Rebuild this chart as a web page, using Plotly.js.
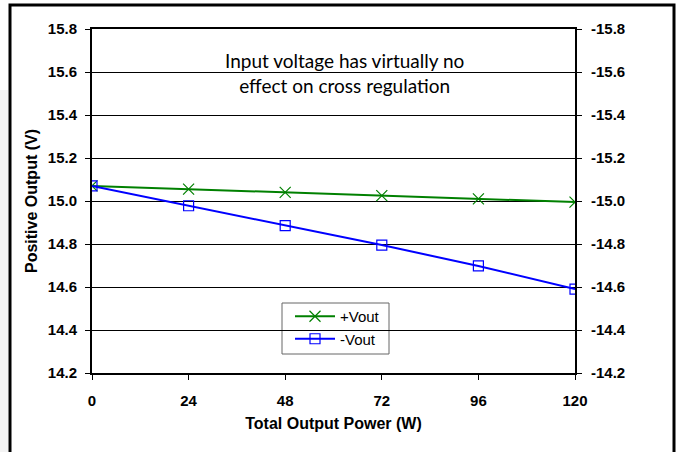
<!DOCTYPE html>
<html>
<head>
<meta charset="utf-8">
<script src="https://cdn.plot.ly/plotly-3.0.1.min.js"></script>
<style>html,body{margin:0;padding:0;background:#fff;}#chart{width:681px;height:452px;}</style>
</head>
<body>
<div id="chart"></div>
<script>
// Data
const power = [0, 24, 48, 72, 96, 120];               // Total Output Power (W)
const posVout = [15.07, 15.055, 15.04, 15.025, 15.01, 14.995];   // +Vout (V)
const negVout = [-15.07, -14.978, -14.885, -14.795, -14.698, -14.59]; // -Vout (V)
const xTicks = [0, 24, 48, 72, 96, 120];
const yTicks = [14.2, 14.4, 14.6, 14.8, 15.0, 15.2, 15.4, 15.6, 15.8];
const y2Ticks = [-15.8, -15.6, -15.4, -15.2, -15.0, -14.8, -14.6, -14.4, -14.2];
const noteText = 'Input voltage has virtually no<br>effect on cross regulation';

const tickFont = {family: 'Liberation Sans, Arial, sans-serif', size: 15, color: '#000', weight: 'bold'};
const titleFont = {family: 'Liberation Sans, Arial, sans-serif', size: 16, color: '#000', weight: 'bold'};

const traces = [
  {
    x: power, y: posVout, name: '+Vout', type: 'scatter', mode: 'lines+markers',
    line: {color: '#008000', width: 2},
    marker: {symbol: 'x-thin', size: 11, line: {color: '#008000', width: 1.2}, color: '#008000'},
    xaxis: 'x', yaxis: 'y'
  },
  {
    x: power, y: negVout, name: '-Vout', type: 'scatter', mode: 'lines+markers',
    line: {color: '#0000ff', width: 2},
    marker: {symbol: 'square-open', size: 10, color: '#0000ff', line: {color: '#0000ff', width: 1.2}},
    xaxis: 'x', yaxis: 'y2'
  }
];

const L = 92, R = 575, T = 29, B = 373, W = 681, H = 452;
const px = v => (v - L) / (R - L);
const py = v => (B - v) / (B - T);

const layout = {
  width: W, height: H,
  margin: {l: L, r: W - R, t: T, b: H - B, pad: 0},
  paper_bgcolor: '#fff', plot_bgcolor: '#fff',
  showlegend: true,
  legend: {
    x: px(290), y: py(300), xanchor: 'left', yanchor: 'top',
    bgcolor: 'rgba(0,0,0,0)', borderwidth: 0,
    font: {family: 'Liberation Sans, Arial, sans-serif', size: 15, color: '#000'},
    itemwidth: 40, tracegroupgap: 0
  },
  xaxis: {
    range: [0, 120], tickvals: xTicks, ticktext: xTicks.map(String),
    showgrid: false, zeroline: false,
    showline: true, linecolor: '#000', linewidth: 2, mirror: true,
    ticks: 'outside', ticklen: 5, tickcolor: '#000', tickwidth: 1,
    tickfont: tickFont, ticklabelstandoff: 8,
    title: {text: 'Total Output Power (W)', font: titleFont, standoff: 10}
  },
  yaxis: {
    range: [14.2, 15.8], tickvals: yTicks, ticktext: yTicks.map(v => v.toFixed(1)),
    showgrid: true, gridcolor: '#000', gridwidth: 1, zeroline: false,
    showline: true, linecolor: '#000', linewidth: 2,
    ticks: 'outside', ticklen: 5, tickcolor: '#000', tickwidth: 1,
    tickfont: tickFont, ticklabelstandoff: 5,
    title: {text: 'Positive Output (V)', font: titleFont, standoff: 6}
  },
  yaxis2: {
    overlaying: 'y', side: 'right', anchor: 'x',
    range: [-14.2, -15.8], tickvals: y2Ticks, ticktext: y2Ticks.map(v => v.toFixed(1)),
    showgrid: false, zeroline: false,
    showline: true, linecolor: '#000', linewidth: 2,
    ticks: 'outside', ticklen: 5, tickcolor: '#000', tickwidth: 1,
    tickfont: tickFont, ticklabelstandoff: 6
  },
  annotations: [
    {
      xref: 'paper', yref: 'paper', x: px(344), y: py(73), xanchor: 'center', yanchor: 'middle',
      text: noteText, showarrow: false, align: 'center',
      font: {family: 'Lato, sans-serif', size: 19, color: '#000'}
    }
  ],
  shapes: [
    {type: 'rect', xref: 'paper', yref: 'paper', layer: 'below',
     x0: px(0), x1: px(8), y0: py(460), y1: py(90), fillcolor: '#f3f3f3', line: {width: 0}},
    {type: 'rect', xref: 'paper', yref: 'paper', layer: 'between',
     x0: px(282), x1: px(389), y0: py(354), y1: py(303), fillcolor: '#fff', line: {color: '#666', width: 1}},
    {type: 'rect', xref: 'paper', yref: 'paper', layer: 'above',
     x0: px(10), x1: px(674), y0: py(470), y1: py(5), line: {color: '#000', width: 3}}
  ]
};

Plotly.newPlot('chart', traces, layout, {displayModeBar: false, staticPlot: true});
</script>
</body>
</html>
